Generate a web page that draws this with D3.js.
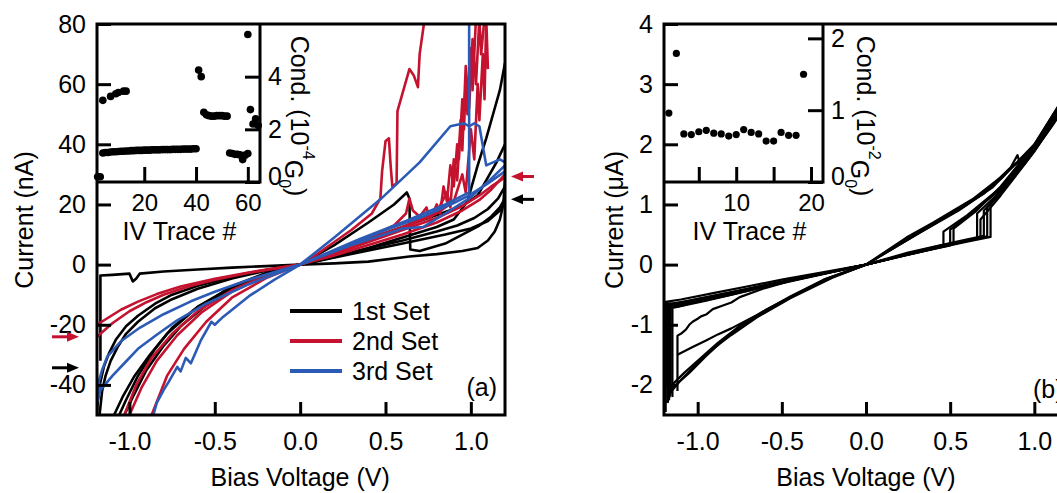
<!DOCTYPE html>
<html><head><meta charset="utf-8">
<script src="https://cdn.jsdelivr.net/npm/d3@7"></script>
<style>
html,body{margin:0;padding:0;background:#fff;overflow:hidden}
text{font-family:'Liberation Sans',Arial,Helvetica,sans-serif;fill:#000}
</style>
</head><body>
<svg id="chart" width="1057" height="493"></svg>
<script>
// ---------------- DATA ----------------
const setNames = ["1st Set", "2nd Set", "3rd Set"];

// Panel (a) traces: [bias V, current nA]
// 1st set (black)
const aK1 = [[-1.17,-32],[-1.17,-3.6],[-1.1,-3.4],[-1.0,-3.0],[-0.98,-5.6],[-0.96,-4.6],[-0.94,-3.0],[-0.8,-2.3],[-0.6,-1.6],[-0.4,-1.0],[-0.2,-0.5],[0,0],[0.2,0.4],[0.4,1.0],[0.64,2.7],[0.8,3.5],[0.95,4.5],[1.04,5.5],[1.1,8],[1.14,11],[1.17,15],[1.19,20],[1.2,28]];
const aK2 = [[-1.19,-50],[-1.185,-45],[-1.17,-39],[-1.15,-34],[-1.12,-29.5],[-1.08,-25],[-1.02,-20.5],[-0.95,-17],[-0.85,-13],[-0.75,-10],[-0.6,-7],[-0.4,-4],[-0.2,-1.8],[0,0],[0.2,6.5],[0.4,14],[0.55,20],[0.625,24],[0.64,22],[0.645,5],[0.7,4.5],[0.85,7],[0.95,10],[1.05,13],[1.12,16],[1.17,19],[1.2,22]];
const aK3 = [[-1.175,-50],[-1.16,-42],[-1.14,-37],[-1.11,-32],[-1.07,-27.5],[-1.02,-23],[-0.95,-19],[-0.85,-14.5],[-0.75,-11.5],[-0.6,-8],[-0.4,-4.6],[-0.2,-2],[0,0],[0.2,2.5],[0.4,5.5],[0.6,9],[0.8,12.5],[0.9,15],[0.98,21],[1.04,33],[1.09,42],[1.13,50],[1.17,58],[1.2,67]];
const aK4 = [[-1.06,-50],[-1.02,-45],[-0.95,-37],[-0.85,-28],[-0.75,-21],[-0.6,-14],[-0.4,-7.5],[-0.2,-3],[0,0],[0.2,4],[0.4,8.5],[0.6,12.5],[0.8,16.5],[0.95,19.5],[1.04,23],[1.1,29],[1.15,34],[1.2,40]];
const aK5 = [[-1.03,-50],[-0.98,-44],[-0.9,-35],[-0.8,-27],[-0.7,-20.5],[-0.55,-13.5],[-0.4,-8],[-0.2,-3.2],[0,0],[0.3,4],[0.6,8],[0.8,11],[0.92,13],[1.02,15.5],[1.1,18.5],[1.16,22],[1.2,26]];
const aK6 = [[-1.09,-50],[-1.04,-44],[-0.97,-37],[-0.88,-30],[-0.78,-23],[-0.62,-15],[-0.4,-7.2],[-0.2,-2.8],[0,0],[0.3,3.5],[0.6,7],[0.85,10],[1.0,12],[1.1,14.5],[1.17,18],[1.2,21]];
// 2nd set (red)
const aR1 = [[-1.19,-20],[-1.12,-17.5],[-1.05,-15],[-0.95,-12.3],[-0.84,-9.8],[-0.7,-7.3],[-0.5,-4.7],[-0.3,-2.6],[-0.1,-0.8],[0,0],[0.2,3],[0.4,6.5],[0.6,10],[0.8,14],[0.95,18],[1.05,21.5],[1.12,25],[1.2,30]];
const aR2 = [[-1.19,-24],[-1.1,-19.5],[-1.0,-15.5],[-0.9,-12.5],[-0.8,-10],[-0.65,-7.2],[-0.5,-5],[-0.3,-2.7],[0,0],[0.2,3.5],[0.4,7.5],[0.6,11.5],[0.8,15.5],[0.95,19.5],[1.05,23],[1.12,26],[1.2,29]];
const aR3 = [[-1.03,-50],[-0.96,-40],[-0.87,-31],[-0.75,-23],[-0.6,-15.5],[-0.4,-8.5],[-0.2,-3.5],[0,0],[0.1,3.5],[0.2,7.5],[0.3,11.5],[0.42,17],[0.47,22],[0.48,31],[0.5,41],[0.52,42],[0.53,33],[0.54,26],[0.565,27],[0.57,51],[0.61,59],[0.64,65],[0.665,63],[0.69,59],[0.7,70],[0.72,78],[0.73,82]];
const aR4 = [[-0.87,-50],[-0.78,-37],[-0.68,-28],[-0.55,-19],[-0.4,-11],[-0.2,-4.5],[0,0],[0.2,4],[0.4,9],[0.55,13],[0.62,17],[0.64,22],[0.66,18],[0.7,16],[0.74,19],[0.76,15],[0.8,20],[0.82,17],[0.84,26],[0.86,21],[0.88,33],[0.9,26],[0.92,40],[0.93,35],[0.95,55],[0.96,45],[0.97,62],[0.98,50],[1.0,72],[1.01,58],[1.03,82]];
const aR5 = [[-1.0,-50],[-0.93,-41],[-0.84,-32],[-0.72,-23.5],[-0.58,-16],[-0.4,-9],[-0.2,-3.8],[0,0],[0.3,6],[0.6,12],[0.8,17],[0.9,21],[0.95,30],[0.97,24],[1.0,45],[1.02,35],[1.04,60],[1.05,48],[1.07,70],[1.08,55],[1.09,82],[1.1,65]];
const aR6 = [[0,0],[0.3,6.5],[0.6,12.5],[0.8,17.5],[0.86,24],[0.88,19],[0.9,35],[0.92,28],[0.94,48],[0.95,38],[0.97,66],[0.99,52],[1.01,75],[1.03,60],[1.05,82],[1.06,70],[1.08,82]];
// 3rd set (blue)
const aL1 = [[-1.19,-43],[-1.17,-41],[-1.18,-39],[-1.16,-35],[-1.13,-30.6],[-1.05,-25.5],[-0.94,-21],[-0.8,-16.5],[-0.64,-12.2],[-0.5,-9],[-0.3,-5],[0,0],[0.2,9],[0.47,21.7],[0.7,34],[0.88,46],[0.96,47],[0.99,46],[1.02,47],[1.05,46],[1.09,33],[1.17,35],[1.2,34]];
const aL2 = [[-1.2,-50],[-1.19,-46],[-1.17,-41.7],[-1.1,-37],[-1.03,-32.8],[-0.95,-28],[-0.84,-23.3],[-0.72,-18.5],[-0.55,-13],[-0.3,-6.5],[0,0],[0.3,7],[0.5,11.5],[0.72,16],[0.9,20.5],[0.99,23],[1.1,27],[1.2,31]];
const aL3 = [[-0.86,-50],[-0.84,-46],[-0.8,-41.7],[-0.77,-39],[-0.72,-34],[-0.7,-35.5],[-0.67,-31],[-0.64,-32.8],[-0.58,-25],[-0.52,-19],[-0.5,-20],[-0.45,-17.3],[-0.3,-10.5],[-0.15,-5],[0,0],[0.3,6.5],[0.55,11],[0.6,12],[0.72,12.5],[0.85,17],[0.99,22],[1.1,27.5],[1.2,33]];
const aL4 = [[0,0],[0.35,8.5],[0.62,14.5],[0.85,20],[0.99,24],[0.99,82]];

// Panel (b) traces: [bias V, current uA]
const bQ1 = [[-1.19,-2.45],[-1.19,-0.62],[-1.1,-0.58],[-0.9,-0.47],[-0.7,-0.36],[-0.5,-0.25],[-0.3,-0.15],[0,0],[0.2,0.13],[0.4,0.26],[0.6,0.38],[0.74,0.46],[0.74,1.0],[0.8,1.23],[0.9,1.58],[1.0,1.93],[1.1,2.33],[1.2,2.8]];
const bQ2 = [[-1.18,-2.3],[-1.18,-0.66],[-1.05,-0.6],[-0.85,-0.5],[-0.6,-0.34],[-0.3,-0.17],[0,0],[0.2,0.14],[0.45,0.3],[0.72,0.47],[0.72,0.95],[0.8,1.2],[0.9,1.55],[1.0,1.9],[1.1,2.3],[1.2,2.75]];
const bQ3 = [[-1.16,-2.1],[-1.16,-0.7],[-1.0,-0.62],[-0.8,-0.5],[-0.5,-0.3],[0,0],[0.25,0.2],[0.5,0.36],[0.7,0.48],[0.7,0.9],[0.8,1.18],[0.95,1.7],[1.1,2.28],[1.2,2.7]];
const bQ4 = [[-1.19,-2.0],[-1.19,-0.64],[-1.1,-0.66],[-0.9,-0.55],[-0.6,-0.36],[0,0],[0.3,0.2],[0.5,0.32],[0.5,0.58],[0.6,0.8],[0.8,1.25],[1.0,1.97],[1.2,2.85]];
const bQ5 = [[-1.2,-2.4],[-1.2,-0.7],[-1.12,-0.7],[-0.9,-0.54],[-0.6,-0.35],[0,0],[0.3,0.22],[0.46,0.33],[0.46,0.55],[0.6,0.82],[0.8,1.28],[1.0,1.99],[1.2,2.9]];
const bQ6 = [[-1.17,-2.25],[-1.17,-0.68],[-1.0,-0.57],[-0.7,-0.4],[0,0],[0.35,0.25],[0.66,0.43],[0.66,0.85],[0.8,1.22],[1.0,1.92],[1.2,2.78]];
const bQ7 = [[-1.15,-2.2],[-1.15,-0.72],[-0.95,-0.6],[-0.6,-0.37],[0,0],[0.4,0.28],[0.68,0.45],[0.68,0.75],[0.8,1.15],[1.0,1.88],[1.2,2.72]];
const bH1 = [[-1.18,-2.3],[-1.15,-2.05],[-1.05,-1.8],[-0.95,-1.52],[-0.85,-1.26],[-0.75,-1.05],[-0.65,-0.86],[-0.45,-0.54],[-0.25,-0.25],[0,0],[0.24,0.45],[0.4,0.7],[0.64,1.1],[0.8,1.45],[0.9,1.7],[1.03,2.07],[1.13,2.5],[1.2,2.85]];
const bH2 = [[-1.17,-2.15],[-1.1,-1.92],[-1.0,-1.63],[-0.9,-1.38],[-0.8,-1.17],[-0.65,-0.88],[-0.45,-0.56],[-0.2,-0.22],[0,0],[0.25,0.44],[0.5,0.83],[0.7,1.18],[0.86,1.62],[0.9,1.82],[0.92,1.62],[1.0,1.95],[1.1,2.38],[1.2,2.9]];
const bH3 = [[-1.16,-2.02],[-1.08,-1.8],[-0.98,-1.55],[-0.88,-1.3],[-0.75,-1.02],[-0.6,-0.76],[-0.4,-0.47],[-0.2,-0.21],[0,0],[0.3,0.5],[0.55,0.9],[0.75,1.28],[0.88,1.66],[0.95,1.78],[1.05,2.12],[1.2,2.82]];
const bM1 = [[-1.12,-2.1],[-1.12,-1.18],[-1.1,-1.15],[-1.07,-1.08],[-1.05,-1.0],[-1.03,-0.95],[-1.0,-0.9],[-0.98,-0.86],[-0.95,-0.83],[-0.91,-0.74],[-0.85,-0.68],[-0.8,-0.63],[-0.75,-0.54],[-0.6,-0.39],[-0.45,-0.27],[-0.25,-0.14],[0,0],[0.3,0.2],[0.52,0.35],[0.52,0.6],[0.65,0.88],[0.8,1.3],[1.0,1.98],[1.2,2.86]];
const bM2 = [[-1.12,-1.5],[-1.03,-1.37],[-0.95,-1.26],[-0.88,-1.16],[-0.8,-1.06],[-0.65,-0.84],[-0.45,-0.53],[-0.25,-0.25],[0,0],[0.3,0.5],[0.6,1.0],[0.8,1.42],[1.0,2.0],[1.2,2.88]];

// Inset (a): IV trace number vs conductance (10^-4 G0)
const insetATrace = [2,3,4,7,9,10,12,13,
  4,5,6,7,8,9,10,11,12,13,14,15,16,17,18,19,20,21,22,23,24,25,26,27,28,29,30,31,32,33,34,35,36,37,38,39,40,
  41,42,43,44,45,46,47,48,49,50,51,52,53,54,55,56,57,58,59,60,60,61,62,63,64];
const insetACond = [0.2,0.2,3.1,3.25,3.35,3.4,3.45,3.45,
  1.10,1.12,1.12,1.14,1.15,1.15,1.16,1.17,1.17,1.18,1.18,1.19,1.19,1.2,1.2,1.2,1.21,1.21,1.21,1.22,1.22,1.22,1.22,1.23,1.23,1.23,1.23,1.24,1.24,1.24,1.24,1.25,1.25,1.25,1.25,1.26,1.26,
  4.25,4.0,2.65,2.55,2.52,2.5,2.5,2.52,2.52,2.52,2.5,2.5,1.1,1.08,1.05,1.05,1.03,0.85,1.02,1.08,5.6,2.75,2.2,2.4,2.15];
// Inset (b): IV trace number vs conductance (10^-2 G0)
const insetBTrace = [1,2,3,4,5,6,7,8,9,10,11,12,13,14,15,16,17,18,19];
const insetBCond = [0.96,1.79,0.67,0.66,0.70,0.72,0.68,0.67,0.64,0.66,0.73,0.69,0.67,0.57,0.57,0.69,0.65,0.65,1.5];

// Tick values and labels
const biasTicks = [-1.0,-0.5,0,0.5,1.0];
const biasTickLabels = ["-1.0","-0.5","0.0","0.5","1.0"];
const aCurTicks = [-40,-20,0,20,40,60,80];
const aCurTickLabels = ["-40","-20","0","20","40","60","80"];
const bCurTicks = [-2,-1,0,1,2,3,4];
const bCurTickLabels = ["-2","-1","0","1","2","3","4"];
const insetATraceTicks = [20,40,60];
const insetACondTicks = [0,2,4];
const insetBTraceTicks = [5,10,15,20];
const insetBTraceLabels = ["","10","","20"];
const insetBCondTicks = [0,1,2];

// arrows marking levels (nA)
const arrowRightLevels = [29.3, 21.7];
const arrowLeftLevels = [-24, -34.3];

// ---------------- STYLE / LAYOUT ----------------
const setColors = ["#000000", "#c4122f", "#2c5bb6"];
const FS = 25;
const svg = d3.select("#chart");
svg.append("rect").attr("width",1057).attr("height",493).attr("fill","#fff");

const A = {l:97, r:505, t:24, b:415};
const B = {l:664, r:1068, t:24, b:415};
const xA = d3.scaleLinear().domain([-1.19,1.2]).range([A.l,A.r]);
const yA = d3.scaleLinear().domain([-50,80]).range([A.b,A.t]);
const xB = d3.scaleLinear().domain([-1.2,1.2]).range([B.l,B.r]);
const yB = d3.scaleLinear().domain([-2.5,4]).range([B.b,B.t]);
const IA = {l:97, r:260, t:24, b:182};
const IB = {l:664, r:823, t:24, b:182};
const xIA = d3.scaleLinear().domain([1.75,64.7]).range([IA.l,IA.r]);
const yIA = d3.scaleLinear().domain([0,6]).range([IA.b,IA.t]);
const xIB = d3.scaleLinear().domain([0.35,21.6]).range([IB.l,IB.r]);
const yIB = d3.scaleLinear().domain([0,2.2]).range([IB.b,IB.t]);

const defs = svg.append("defs");
defs.append("clipPath").attr("id","clipA").append("rect")
  .attr("x",A.l).attr("y",A.t).attr("width",A.r-A.l).attr("height",A.b-A.t);
defs.append("clipPath").attr("id","clipB").append("rect")
  .attr("x",B.l).attr("y",B.t).attr("width",B.r-B.l).attr("height",B.b-B.t);

// ---- Panel (a) curves ----
const setsA = [[aK1,aK2,aK3,aK4,aK5,aK6],[aR1,aR2,aR3,aR4,aR5,aR6],[aL1,aL2,aL3,aL4]];
const lineA = d3.line().x(d=>xA(d[0])).y(d=>yA(d[1]));
const gA = svg.append("g").attr("clip-path","url(#clipA)");
setsA.forEach((traces,si)=>{
  gA.selectAll(null).data(traces).join("path")
    .attr("d",lineA).attr("fill","none").attr("stroke",setColors[si])
    .attr("stroke-width",2.6).attr("stroke-linejoin","round");
});

// ---- Panel (b) curves ----
const tracesB = [bQ1,bQ2,bQ3,bQ4,bQ5,bQ6,bQ7,bH1,bH2,bH3,bM1,bM2];
const lineB = d3.line().x(d=>xB(d[0])).y(d=>yB(d[1]));
svg.append("g").attr("clip-path","url(#clipB)")
  .selectAll("path").data(tracesB).join("path")
  .attr("d",lineB).attr("fill","none").attr("stroke","#000")
  .attr("stroke-width",2.2).attr("stroke-linejoin","round");

// ---- Insets ----
function drawInset(I, xs, ys, traces, conds, xTicks, xLabels, yTicks, r){
  svg.append("rect").attr("x",I.l).attr("y",I.t).attr("width",I.r-I.l).attr("height",I.b-I.t).attr("fill","#fff");
  svg.append("g").selectAll("circle").data(traces.map((t,i)=>[t,conds[i]])).join("circle")
    .attr("cx",d=>xs(d[0])).attr("cy",d=>ys(d[1])).attr("r",r).attr("fill","#000");
  const gx = svg.append("g").attr("transform",`translate(0,${I.b})`)
    .call(d3.axisBottom(xs).tickValues(xTicks).tickFormat((d,i)=>xLabels[i]).tickSize(-15).tickPadding(12));
  const gy = svg.append("g").attr("transform",`translate(${I.r},0)`)
    .call(d3.axisRight(ys).tickValues(yTicks).tickFormat(d=>String(d)).tickSize(-15).tickPadding(8));
  [gx,gy].forEach(g=>{
    g.select(".domain").remove();
    g.selectAll(".tick line").attr("stroke","#000").attr("stroke-width",3);
    g.selectAll("text").attr("font-size",FS).attr("fill","#000").attr("font-family",null);
  });
  gx.selectAll("text").attr("font-size",24);
  gy.selectAll(".tick").filter(d=>d===0).select("text").attr("dy","0.1em");
  svg.append("path").attr("d",`M${I.l},${I.b}H${I.r}V${I.t}`).attr("fill","none")
    .attr("stroke","#000").attr("stroke-width",3);
}
drawInset(IA, xIA, yIA, insetATrace, insetACond, insetATraceTicks, insetATraceTicks.map(String), insetACondTicks, 3.8);
drawInset(IB, xIB, yIB, insetBTrace, insetBCond, insetBTraceTicks, insetBTraceLabels, insetBCondTicks, 3.6);

// ---- Main axes ----
function drawMain(P, xs, ys, yTicks, yLabels){
  const gx = svg.append("g").attr("transform",`translate(0,${P.b})`)
    .call(d3.axisBottom(xs).tickValues(biasTicks).tickFormat((d,i)=>biasTickLabels[i]).tickSize(-13).tickPadding(17));
  const gy = svg.append("g").attr("transform",`translate(${P.l},0)`)
    .call(d3.axisLeft(ys).tickValues(yTicks).tickFormat((d,i)=>yLabels[i]).tickSize(-14).tickPadding(11));
  [gx,gy].forEach(g=>{
    g.select(".domain").remove();
    g.selectAll(".tick line").attr("stroke","#000").attr("stroke-width",3);
    g.selectAll("text").attr("font-size",FS).attr("fill","#000").attr("font-family",null);
  });
  svg.append("rect").attr("x",P.l).attr("y",P.t).attr("width",P.r-P.l).attr("height",P.b-P.t)
    .attr("fill","none").attr("stroke","#000").attr("stroke-width",3);
}
drawMain(A, xA, yA, aCurTicks, aCurTickLabels);
drawMain(B, xB, yB, bCurTicks, bCurTickLabels);

// ---- Titles ----
function t(x,y,str,opts={}){
  const e = svg.append("text").attr("x",x).attr("y",y).attr("font-size",opts.fs||FS)
    .attr("text-anchor",opts.anchor||"middle");
  if(opts.rot) e.attr("transform",`rotate(${opts.rot},${x},${y})`);
  if(opts.dy) e.attr("dy",opts.dy);
  e.text(str);
  return e;
}
t(xA(0), 486, "Bias Voltage (V)");
t(xB(0), 486, "Bias Voltage (V)");
t(24, 220, "Current (nA)", {rot:-90, dy:"0.35em"});
t(614, 220, "Current (\u03bcA)", {rot:-90, dy:"0.35em"});
t((IA.l+IA.r)/2+1, 240, "IV Trace #");
t((IB.l+IB.r)/2+6, 240, "IV Trace #");

function condLabel(x,y,exp){
  const e = svg.append("text").attr("x",x).attr("y",y).attr("font-size",FS)
    .attr("text-anchor","middle").attr("dy","0.35em")
    .attr("transform",`rotate(90,${x},${y})`);
  e.append("tspan").text("Cond. (10");
  e.append("tspan").attr("font-size",16).attr("dy","-0.75em").text(exp);
  e.append("tspan").attr("dy","0.75em").text("G");
  e.append("tspan").attr("font-size",16).attr("dy","0.35em").text("0");
  e.append("tspan").attr("dy","-0.35em").text(")");
}
condLabel(300, 116, "-4");
condLabel(866, 116, "-2");

t(497, 396, "(a)", {anchor:"end"});
t(1033, 398, "(b)", {anchor:"start"});

// ---- Legend (a) ----
const lg = svg.append("g");
setNames.forEach((name,i)=>{
  const y = 311 + i*30;
  lg.append("line").attr("x1",290).attr("x2",342).attr("y1",y).attr("y2",y)
    .attr("stroke",setColors[i]).attr("stroke-width",4);
  lg.append("text").attr("x",352).attr("y",y).attr("dy","0.35em").attr("font-size",FS).text(name);
});

// ---- Arrows (a) ----
function arrow(x0,x1,y,color){
  const dir = Math.sign(x1-x0);
  svg.append("line").attr("x1",x0).attr("x2",x1-dir*8).attr("y1",y).attr("y2",y)
    .attr("stroke",color).attr("stroke-width",3);
  svg.append("path").attr("d",`M${x1},${y}L${x1-dir*12},${y-5}L${x1-dir*12},${y+5}Z`).attr("fill",color);
}
arrow(534, 511, yA(arrowRightLevels[0]), setColors[1]);
arrow(534, 511, yA(arrowRightLevels[1]), setColors[0]);
arrow(52, 79, yA(arrowLeftLevels[0]), setColors[1]);
arrow(52, 79, yA(arrowLeftLevels[1]), setColors[0]);
</script>
</body></html>
